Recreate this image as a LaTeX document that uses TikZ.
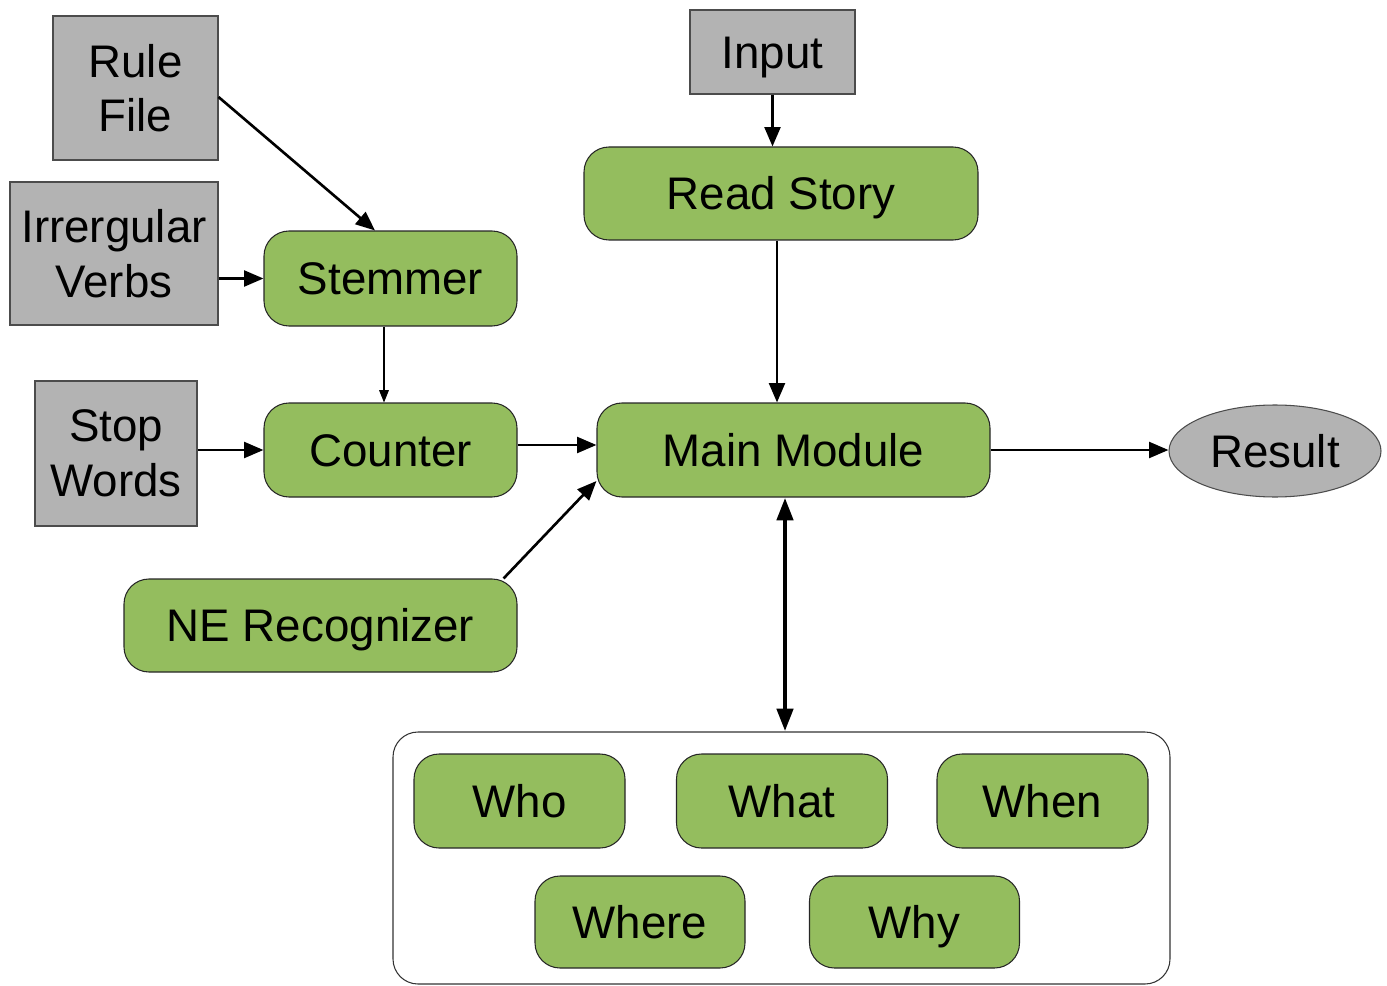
\documentclass[tikz,border=0pt]{standalone}
\usepackage{fontspec}
\setmainfont{Liberation Sans}
\usetikzlibrary{arrows.meta,shapes.geometric}

\definecolor{modgreen}{RGB}{148,189,94}
\definecolor{filegray}{RGB}{179,179,179}

\begin{document}
\begin{tikzpicture}[
    >={Triangle[length=11pt,width=9pt]},
    every node/.style={font=\fontsize{26}{31}\selectfont, align=center, inner sep=0pt},
    oneline/.style={text height=18.6pt, text depth=0pt},
    module/.style={draw=black!85, line width=0.6pt, fill=modgreen, rounded corners=0.5cm, oneline},
    datafile/.style={draw=black!70, line width=0.6pt, fill=filegray},
    outcome/.style={ellipse, draw=black!70, line width=0.6pt, fill=filegray, oneline},
    link/.style={->, line width=1.5pt}
  ]
  \useasboundingbox (0,0) rectangle (27.74,-19.72);

  % input files
  \node[datafile, minimum width=3.30cm, minimum height=2.88cm] (rule) at (2.71,-1.76) {Rule\\File};
  \node[datafile, minimum width=4.16cm, minimum height=2.86cm] (irreg) at (2.28,-5.07) {Irrergular\\Verbs};
  \node[datafile, minimum width=3.24cm, minimum height=2.90cm] (stopw) at (2.32,-9.07) {Stop\\Words};
  \node[datafile, oneline, minimum width=3.30cm, minimum height=1.68cm] (input) at (15.45,-1.04) {Input};

  % processing modules
  \node[module, minimum width=7.88cm, minimum height=1.86cm] (read) at (15.62,-3.87) {Read Story};
  \node[module, minimum width=5.06cm, minimum height=1.90cm] (stem) at (7.81,-5.57) {Stemmer};
  \node[module, minimum width=5.06cm, minimum height=1.88cm] (count) at (7.81,-9.00) {Counter};
  \node[module, minimum width=7.86cm, minimum height=1.88cm] (main) at (15.87,-9.00) {Main Module};
  \node[module, minimum width=7.86cm, minimum height=1.86cm] (ner) at (6.41,-12.51) {NE Recognizer};
  \node[outcome, minimum width=4.24cm, minimum height=1.84cm] (result) at (25.50,-9.02) {Result};

  % question group
  \node[draw=black!80, line width=0.6pt, rounded corners=0.5cm,
        minimum width=15.54cm, minimum height=5.04cm] (qbox) at (15.63,-17.16) {};
  \node[module, minimum width=4.22cm, minimum height=1.88cm] (who) at (10.39,-16.02) {Who};
  \node[module, minimum width=4.22cm, minimum height=1.88cm] (what) at (15.64,-16.02) {What};
  \node[module, minimum width=4.22cm, minimum height=1.88cm] (when) at (20.85,-16.02) {When};
  \node[module, minimum width=4.20cm, minimum height=1.84cm] (where) at (12.80,-18.44) {Where};
  \node[module, minimum width=4.20cm, minimum height=1.84cm] (why) at (18.29,-18.44) {Why};

  % connections
  \draw[link] ([yshift=-0.18cm]rule.east) -- ([xshift=-0.31cm]stem.north);
  \draw[link] (irreg.east |- stem.west) -- (stem.west);
  \draw[->, >={Triangle[length=7pt,width=5.5pt]}, line width=0.6pt]
    ([xshift=-0.13cm]stem.south) -- ([xshift=-0.13cm]count.north);
  \draw[link] (stopw.east |- count.west) -- (count.west);
  \draw[link] ([yshift=0.1cm]count.east) -- ([yshift=0.1cm]main.west);
  \draw[link] ([xshift=-0.28cm]ner.north east) -- ([yshift=-0.62cm]main.west);
  \draw[link] (input.south) -- (input.south |- read.north);
  \draw[link] ([xshift=-0.08cm]read.south) -- ([xshift=-0.08cm]read.south |- main.north);
  \draw[link] (main.east) -- (main.east -| result.west);
  \draw[<->, >={Triangle[length=13pt,width=9pt]}, line width=2.8pt]
    ([xshift=-0.17cm]main.south) -- ([xshift=-0.17cm]main.south |- qbox.north);
\end{tikzpicture}
\end{document}
